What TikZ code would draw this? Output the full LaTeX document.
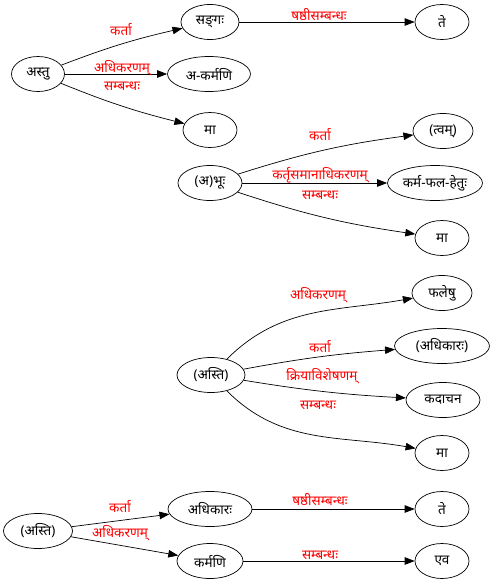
\documentclass[tikz,border=0pt]{standalone}
\usepackage{fontspec}
\setmainfont[Script=Devanagari]{Noto Sans}
\usetikzlibrary{shapes.geometric,arrows.meta}
\begin{document}
\begin{tikzpicture}[x=1pt,y=1pt,
  nd/.style={draw,ellipse,minimum height=35pt,inner sep=0pt,line width=0.7pt,font=\fontsize{13.5}{15}\selectfont},
  lbl/.style={text=red,inner sep=0pt,font=\fontsize{13.5}{15}\selectfont},
  con/.style={-{Triangle[length=10pt,width=7.5pt]},line width=0.7pt}]
\useasboundingbox (0,0) rectangle (500,-584);
% group 1
\node[nd,minimum width=53pt] (a1) at (38,-74) {अस्तु};
\node[nd,minimum width=58pt] (b1) at (210,-22) {सङ्‌गः};
\node[nd,minimum width=83pt] (c1) at (209,-74) {अ-कर्मणि};
\node[nd,minimum width=54pt] (d1) at (210,-130) {मा};
\node[nd,minimum width=54pt] (e1) at (442,-22) {ते};
\draw[con] (a1) to[bend left=4] (b1);
\draw[con] (a1) -- (c1);
\draw[con] (a1) to[bend right=4] (d1);
\draw[con] (b1) -- (e1);
\node[lbl] (l1a) at (121,-30) {कर्ता};
\node[lbl] (l1b) at (122,-68) {अधिकरणम्};
\node[lbl] (l1c) at (122,-86) {सम्बन्धः};
\node[lbl] (l1d) at (319,-15) {षष्ठीसम्बन्धः};
% group 2
\node[nd,minimum width=64pt] (a2) at (210,-183) {(अ)भूः};
\node[nd,minimum width=60pt] (b2) at (443,-131) {(त्वम्)};
\node[nd,minimum width=95pt] (c2) at (435,-183) {कर्म-फल-हेतुः};
\node[nd,minimum width=54pt] (d2) at (442,-238) {मा};
\draw[con] (a2) to[bend left=5] (b2);
\draw[con] (a2) -- (c2);
\draw[con] (a2) to[bend right=5] (d2);
\node[lbl] (l2a) at (320,-135) {कर्ता};
\node[lbl] (l2b) at (320,-175) {कर्तृसमानाधिकरणम्};
\node[lbl] (l2c) at (320,-195) {सम्बन्धः};
% group 3
\node[nd,minimum width=68pt] (a3) at (211,-375) {(अस्ति)};
\node[nd,minimum width=60pt] (b3) at (442,-293) {फलेषु};
\node[nd,minimum width=95pt] (c3) at (442,-346) {(अधिकारः)};
\node[nd,minimum width=74pt] (d3) at (443,-400) {कदाचन};
\node[nd,minimum width=54pt] (e3) at (442,-453) {मा};
\draw[con] (a3) to[out=45,in=190] (b3);
\draw[con] (a3) to[bend left=3] (c3);
\draw[con] (a3) to[bend right=3] (d3);
\draw[con] (a3) to[out=-45,in=170] (e3);
\node[lbl] (l3a) at (318,-295) {अधिकरणम्};
\node[lbl] (l3b) at (320,-347) {कर्ता};
\node[lbl] (l3c) at (322,-376) {क्रियाविशेषणम्};
\node[lbl] (l3d) at (318,-405) {सम्बन्धः};
% group 4
\node[nd,minimum width=69pt] (a4) at (38,-531) {(अस्ति)};
\node[nd,minimum width=84pt] (b4) at (210,-509) {अधिकारः};
\node[nd,minimum width=66pt] (c4) at (210,-561) {कर्मणि};
\node[nd,minimum width=54pt] (d4) at (442,-509) {ते};
\node[nd,minimum width=54pt] (e4) at (442,-561) {एव};
\draw[con] (a4) -- (b4);
\draw[con] (a4) -- (c4);
\draw[con] (b4) -- (d4);
\draw[con] (c4) -- (e4);
\node[lbl] (l4a) at (120,-507) {कर्ता};
\node[lbl] (l4b) at (120,-533) {अधिकरणम्};
\node[lbl] (l4c) at (320,-500) {षष्ठीसम्बन्धः};
\node[lbl] (l4d) at (320,-555) {सम्बन्धः};
\end{tikzpicture}
\end{document}
